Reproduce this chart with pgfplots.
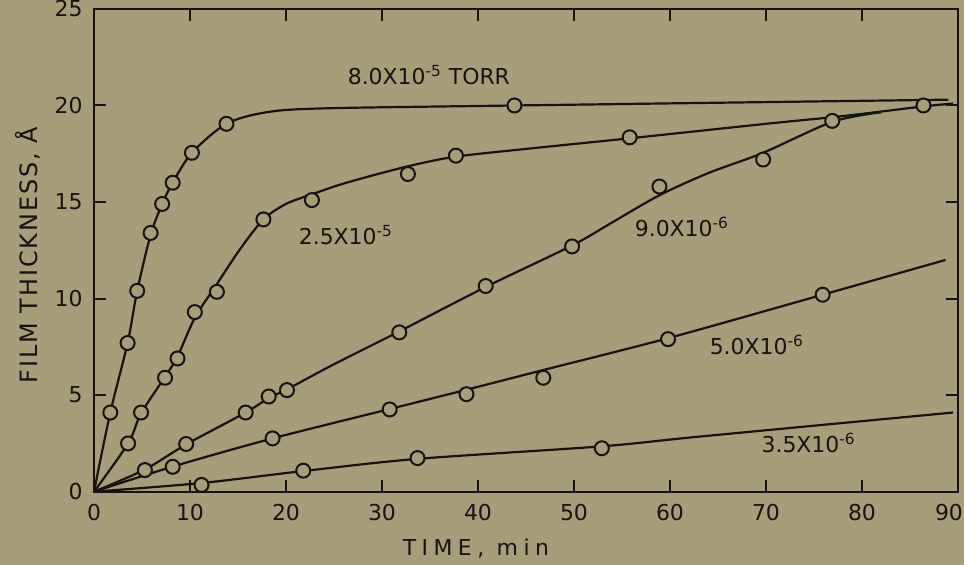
\documentclass[border=0pt]{standalone}
\usepackage{fontspec}
\setmainfont{DejaVu Sans}
\usepackage{pgfplots}
\pgfplotsset{compat=1.18}
\definecolor{bg}{RGB}{166,157,123}
\definecolor{ink}{RGB}{22,20,16}
\tikzset{lbl/.style={font=\fontsize{11}{13}\selectfont, text=ink, anchor=base west, inner sep=0pt}}
\begin{document}
\begin{tikzpicture}
\fill[bg] (-47bp,-36.65bp) rectangle (435bp,245.85bp);
\begin{axis}[
  scale only axis, width=432bp, height=241.4bp,
  xmin=0, xmax=90, ymin=0, ymax=25,
  xtick={0,10,...,80}, ytick={0,5,...,25},
  extra x ticks={90},
  extra x tick style={xticklabel style={xshift=-4.5bp}},
  tick align=inside, major tick length=6bp,
  axis line style={ink, line width=1.2bp},
  every tick/.style={ink, line width=1bp},
  tick label style={font=\fontsize{11}{13}\selectfont, text=ink},
  xticklabel style={yshift=-2.8bp},
  yticklabel style={xshift=-2.2bp},
  /pgf/number format/assume math mode=true,
  xlabel={\addfontfeatures{LetterSpace=25}TIME, min},
  ylabel={\addfontfeatures{LetterSpace=8}FILM THICKNESS, Å},
  xlabel style={font=\fontsize{11}{13}\selectfont, text=ink, at={(axis description cs:0.442,-0.1167)}, anchor=center},
  ylabel style={font=\fontsize{12}{14}\selectfont, text=ink, at={(axis description cs:-0.0764,0.49)}, anchor=center},
  clip=false,
  curve/.style={ink, line width=1.1bp, smooth, tension=0.5, no markers},
  pts/.style={only marks, mark=*, mark size=3.5bp, mark options={fill=bg, draw=ink, line width=1bp}},
]
% 8.0e-5 torr
\addplot[curve] coordinates {(0,0) (1.7,4.1) (3.5,7.7) (4.5,10.4) (5.9,13.3) (7.1,14.9) (8.2,16.0) (10.2,17.55) (13.8,19.05) (18,19.65) (24,19.85) (44,20.0) (89,20.3)};
\addplot[pts] coordinates {(1.7,4.1) (3.5,7.7) (4.5,10.4) (5.9,13.4) (7.1,14.9) (8.2,16.0) (10.2,17.55) (13.8,19.05) (43.8,20.0)};
% 2.5e-5
\addplot[curve] coordinates {(0,0) (3.55,2.5) (4.9,4.05) (7.4,5.95) (8.7,7.0) (10.5,9.0) (12.8,10.75) (15.2,12.55) (17.65,14.1) (20,14.9) (22.7,15.4) (26.3,16.0) (32.7,16.85) (37.7,17.35) (45,17.75) (55.8,18.3) (70,19.05) (78,19.45) (86.4,19.95) (89.5,20.1)};
\addplot[pts] coordinates {(3.55,2.5) (4.9,4.1) (7.4,5.9) (8.7,6.9) (10.5,9.3) (12.8,10.35) (17.65,14.1) (22.7,15.1) (32.7,16.45) (37.7,17.4) (55.8,18.35) (86.4,20.0)};
% 9.0e-6
\addplot[curve] coordinates {(0,0) (5.3,1.15) (9.6,2.45) (15.8,4.1) (18.2,4.85) (20.1,5.3) (25,6.6) (31.8,8.3) (40.8,10.6) (49.8,12.75) (54,13.95) (58.9,15.35) (64,16.5) (69.7,17.55) (76.9,19.15) (82,19.65)};
\addplot[pts] coordinates {(5.3,1.12) (9.6,2.47) (15.8,4.1) (18.2,4.93) (20.1,5.26) (31.8,8.25) (40.8,10.65) (49.8,12.7) (58.9,15.8) (69.7,17.2) (76.9,19.2)};
% 5.0e-6
\addplot[curve] coordinates {(0,0) (8.2,1.3) (18.6,2.76) (30.8,4.28) (38.8,5.28) (46.8,6.3) (59.8,7.95) (75.9,10.2) (88.7,12.0)};
\addplot[pts] coordinates {(8.2,1.29) (18.6,2.76) (30.8,4.26) (38.8,5.05) (46.8,5.9) (59.8,7.9) (75.9,10.2)};
% 3.5e-6
\addplot[curve] coordinates {(0,0) (11.2,0.45) (21.8,1.07) (33.7,1.7) (52.9,2.35) (63,2.85) (89.5,4.1)};
\addplot[pts] coordinates {(11.2,0.35) (21.8,1.09) (33.7,1.74) (52.9,2.25)};
% labels
\node[lbl] at (axis cs:26.4,21.07) {8.0X10\textsuperscript{-5} TORR};
\node[lbl] at (axis cs:21.3,12.8) {2.5X10\textsuperscript{-5}};
\node[lbl] at (axis cs:56.3,13.2) {9.0X10\textsuperscript{-6}};
\node[lbl] at (axis cs:64.1,7.1) {5.0X10\textsuperscript{-6}};
\node[lbl] at (axis cs:69.5,2.05) {3.5X10\textsuperscript{-6}};
\end{axis}
\pgfresetboundingbox
\path (-47bp,-36.65bp) rectangle (435bp,245.85bp);
\end{tikzpicture}
\end{document}
